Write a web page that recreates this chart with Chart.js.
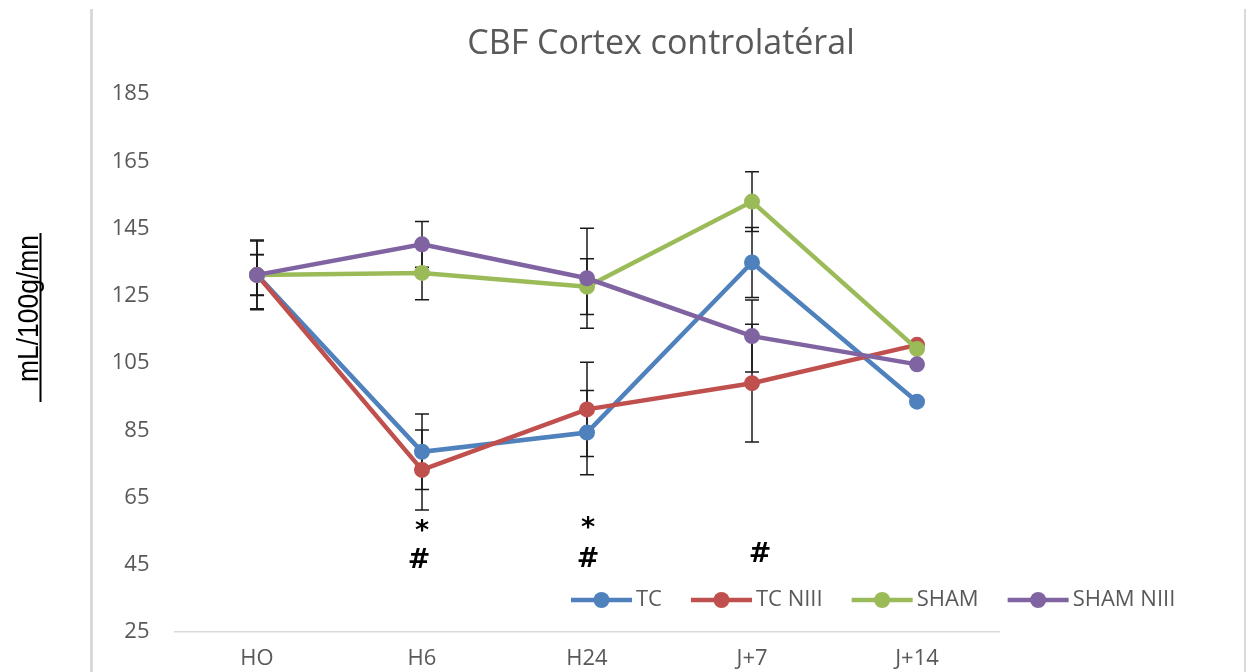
<!DOCTYPE html>
<html>
<head>
<meta charset="utf-8">
<script src="https://cdn.jsdelivr.net/npm/chart.js@4.4.1/dist/chart.umd.min.js"></script>
<style>
  html, body { margin: 0; padding: 0; background: #ffffff; }
  #wrap { width: 1253px; height: 672px; position: relative; }
</style>
</head>
<body>
<div id="wrap"><canvas id="cbf" width="1253" height="672"></canvas></div>
<script>
// Time points
const categories = ['HO', 'H6', 'H24', 'J+7', 'J+14'];

// Mean CBF (mL/100g/mn) per group
const tcValues       = [131.2, 78.6, 84.3, 134.9, 93.5];
const tcNiiiValues   = [131.2, 73.2, 91.2, 99.0, 110.4];
const shamValues     = [131.2, 131.8, 127.7, 153.0, 109.2];
const shamNiiiValues = [131.2, 140.3, 130.2, 113.0, 104.6];

// Error bar half-widths (no bar at J+14)
const tcErrors       = [10.4, 11.2, 12.5, 10.4, null];
const tcNiiiErrors   = [10.1, 11.9, 14.0, 17.5, null];
const shamErrors     = [6.1, 8.0, 8.3, 8.9, null];
const shamNiiiErrors = [6.0, 6.8, 14.9, 10.7, null];

// Value axis
const yMin = 25;
const yMax = 185;
const yStep = 20;

// Significance marks under the curves
const markLabels     = ['*', '#', '*', '#', '#'];
const markCategories = ['H6', 'H6', 'H24', 'H24', 'J+7'];
const markValues     = [56.8, 47.0, 57.5, 47.3, 48.8];
const markOffsets    = [0, -3, 1, 1, 8];

const chartTitle = 'CBF Cortex controlatéral';
const yTitle = 'mL/100g/mn';

const seriesNames  = ['TC', 'TC NIII', 'SHAM', 'SHAM NIII'];
const seriesValues = [tcValues, tcNiiiValues, shamValues, shamNiiiValues];
const seriesErrors = [tcErrors, tcNiiiErrors, shamErrors, shamNiiiErrors];
const seriesColors = ['#4F81BD', '#C0504D', '#9BBB59', '#8064A2'];

const textGrey = '#595959';
const uiFont = '"Open Sans", "DejaVu Sans", sans-serif';

const datasets = seriesNames.map((name, i) => ({
  label: name,
  data: seriesValues[i],
  errors: seriesErrors[i],
  borderColor: seriesColors[i],
  backgroundColor: seriesColors[i],
  pointBackgroundColor: seriesColors[i],
  pointBorderColor: seriesColors[i],
  borderWidth: 4.5,
  pointRadius: 7,
  pointBorderWidth: 2,
  tension: 0,
  order: seriesNames.length - i   // later series painted on top
}));

// Vertical error bars with caps, painted under the lines
const errorBars = {
  id: 'errorBars',
  beforeDatasetsDraw(chart) {
    const ctx = chart.ctx;
    const y = chart.scales.y;
    ctx.save();
    ctx.strokeStyle = '#1a1a1a';
    ctx.lineWidth = 1.5;
    chart.data.datasets.forEach((ds, di) => {
      const meta = chart.getDatasetMeta(di);
      ds.errors.forEach((e, k) => {
        if (e === null || e === undefined) return;
        const px = meta.data[k].x;
        const top = y.getPixelForValue(ds.data[k] + e);
        const bot = y.getPixelForValue(ds.data[k] - e);
        ctx.beginPath();
        ctx.moveTo(px, top); ctx.lineTo(px, bot);
        ctx.moveTo(px - 7, top); ctx.lineTo(px + 7, top);
        ctx.moveTo(px - 7, bot); ctx.lineTo(px + 7, bot);
        ctx.stroke();
      });
    });
    ctx.restore();
  }
};

// Title, axis title, frame, significance marks and in-plot legend
const decorations = {
  id: 'decorations',
  afterDraw(chart) {
    const ctx = chart.ctx;
    const xs = chart.scales.x;
    const ys = chart.scales.y;
    ctx.save();

    // outer frame edges
    ctx.strokeStyle = '#d9d9d9';
    ctx.lineWidth = 3;
    ctx.beginPath(); ctx.moveTo(91.5, 9); ctx.lineTo(91.5, 672); ctx.stroke();
    ctx.lineWidth = 2;
    ctx.beginPath(); ctx.moveTo(1245, 9); ctx.lineTo(1245, 672); ctx.stroke();

    // chart title
    ctx.fillStyle = textGrey;
    ctx.font = '34px ' + uiFont;
    ctx.textAlign = 'center';
    ctx.textBaseline = 'middle';
    ctx.fillText(chartTitle, 661, 44);

    // rotated, underlined value-axis title
    ctx.save();
    ctx.translate(38, 382);
    ctx.rotate(-Math.PI / 2);
    ctx.font = '30px "Liberation Sans Narrow", "Liberation Sans", Arial, sans-serif';
    const w = ctx.measureText(yTitle).width;
    const sx = 147 / w;
    ctx.fillStyle = '#000000';
    ctx.textAlign = 'left';
    ctx.textBaseline = 'alphabetic';
    ctx.save();
    ctx.scale(sx, 1);
    ctx.fillText(yTitle, 0, 0);
    ctx.restore();
    ctx.fillRect(-20, 1.5, 169, 2);
    ctx.restore();

    // significance marks
    ctx.fillStyle = '#000000';
    ctx.font = 'bold 27px "DejaVu Sans", "Liberation Sans", sans-serif';
    ctx.textAlign = 'center';
    ctx.textBaseline = 'alphabetic';
    markLabels.forEach((t, i) => {
      const px = xs.getPixelForValue(categories.indexOf(markCategories[i])) + markOffsets[i];
      const py = ys.getPixelForValue(markValues[i]);
      const m = ctx.measureText(t);
      const dy = (m.actualBoundingBoxAscent - m.actualBoundingBoxDescent) / 2;
      ctx.fillText(t, px, py + dy);
    });

    // legend inside the plot, lower right
    let lx = 571;
    const ly = 600;
    ctx.font = '22px ' + uiFont;
    ctx.textAlign = 'left';
    ctx.textBaseline = 'middle';
    chart.data.datasets.forEach((ds) => {
      ctx.strokeStyle = ds.borderColor;
      ctx.lineWidth = 4.5;
      ctx.beginPath(); ctx.moveTo(lx, ly); ctx.lineTo(lx + 61, ly); ctx.stroke();
      ctx.fillStyle = ds.borderColor;
      ctx.beginPath(); ctx.arc(lx + 30.5, ly, 8, 0, Math.PI * 2); ctx.fill();
      ctx.fillStyle = textGrey;
      ctx.fillText(ds.label, lx + 65, ly);
      lx += 65 + ctx.measureText(ds.label).width + 29;
    });

    ctx.restore();
  }
};

new Chart(document.getElementById('cbf'), {
  type: 'line',
  data: { labels: categories, datasets },
  options: {
    responsive: false,
    animation: false,
    devicePixelRatio: 1,
    layout: { padding: { left: 0, right: 253.5, top: 94, bottom: 0 } },
    plugins: {
      legend: { display: false },
      title: { display: false },
      tooltip: { enabled: false }
    },
    scales: {
      x: {
        offset: true,
        grid: { display: false, drawTicks: false },
        border: { display: true, color: '#d9d9d9', width: 1.5 },
        ticks: { color: textGrey, font: { family: uiFont, size: 22 }, padding: 14 },
        afterFit(scale) { scale.height = 40; }
      },
      y: {
        min: yMin,
        max: yMax,
        grid: { display: false, drawTicks: false },
        border: { display: false },
        ticks: {
          stepSize: yStep,
          color: textGrey,
          font: { family: uiFont, size: 22 },
          padding: 25
        },
        afterFit(scale) { scale.width = 174.5; }
      }
    }
  },
  plugins: [errorBars, decorations]
});
</script>
</body>
</html>
